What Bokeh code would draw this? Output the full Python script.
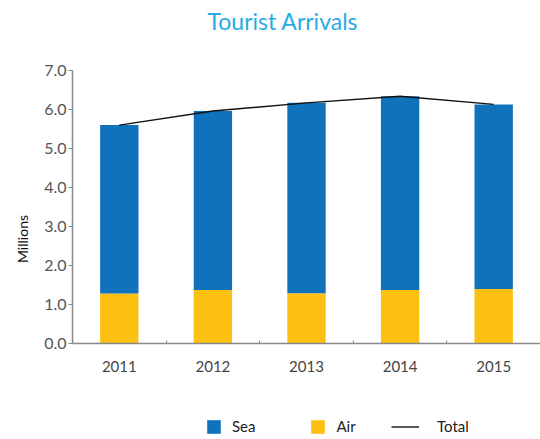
from bokeh.plotting import figure
from bokeh.models import (Range1d, FixedTicker, NumeralTickFormatter, Legend, LegendItem)
from bokeh.embed import file_html
from bokeh.resources import INLINE

years = [2011, 2012, 2013, 2014, 2015]
air = [1.28, 1.37, 1.29, 1.37, 1.40]
sea = [4.32, 4.59, 4.88, 4.97, 4.73]
total = [a + s for a, s in zip(air, sea)]
boundaries = [2011.5, 2012.5, 2013.5, 2014.5]
yticks = [0, 1, 2, 3, 4, 5, 6, 7]

FONT = "Lato"
SEA_C = "#1172BC"
AIR_C = "#FBC012"

p = figure(width=540, height=439, output_backend="svg", toolbar_location=None,
           x_range=Range1d(2010.5, 2015.5), y_range=Range1d(-2.46, 7.82),
           min_border_left=72, min_border_right=0, min_border_bottom=0, min_border_top=0)
p.outline_line_color = None
p.xgrid.grid_line_color = None
p.ygrid.grid_line_color = None

p.title.text = "Tourist Arrivals"
p.title.align = "left"
p.title.offset = 135
p.title.text_color = "#29ABE2"
p.title.text_font = FONT
p.title.text_font_size = "23px"
p.title.text_font_style = "normal"
p.title.standoff = 8

r_air = p.vbar(x=years, bottom=0, top=air, width=0.41, fill_color=AIR_C, line_color=None)
r_sea = p.vbar(x=years, bottom=air, top=total, width=0.41, fill_color=SEA_C, line_color=None)
r_tot = p.line(x=years, y=total, line_color="#111111", line_width=1.4)

xa = p.xaxis[0]
xa.fixed_location = 0
xa.ticker = FixedTicker(ticks=years, minor_ticks=boundaries)
xa.formatter = NumeralTickFormatter(format="0")
xa.major_tick_line_color = None
xa.major_tick_out = 0
xa.major_tick_in = 0
xa.minor_tick_in = 3
xa.minor_tick_out = 0
xa.minor_tick_line_color = "#888888"
xa.axis_line_color = "#888888"
xa.axis_line_width = 1.5
xa.major_label_text_font = FONT
xa.major_label_text_font_size = "15px"
xa.major_label_text_color = "#444444"
xa.major_label_standoff = 17

ya = p.yaxis[0]
ya.ticker = FixedTicker(ticks=yticks)
ya.bounds = (0, 7)
ya.formatter = NumeralTickFormatter(format="0.0")
ya.axis_line_color = "#888888"
ya.axis_line_width = 1.5
ya.major_tick_line_color = "#888888"
ya.major_tick_out = 4
ya.major_tick_in = 0
ya.minor_tick_line_color = None
ya.major_label_text_font = FONT
ya.major_label_text_font_size = "16px"
ya.major_label_text_color = "#555555"
ya.major_label_standoff = 2
ya.axis_label = "Millions"
ya.axis_label_text_font = FONT
ya.axis_label_text_font_size = "14px"
ya.axis_label_text_font_style = "normal"
ya.axis_label_text_color = "#111111"
ya.axis_label_standoff = 10

common = dict(orientation="horizontal", border_line_color=None, background_fill_alpha=0,
              padding=0, margin=0, label_text_font=FONT, label_text_font_size="15px",
              label_text_color="#222222", glyph_height=17)
leg1 = Legend(items=[LegendItem(label="Sea", renderers=[r_sea]),
                     LegendItem(label="Air", renderers=[r_air])],
              location=(133, 4), glyph_width=17, label_standoff=10,
              spacing=54, **common)
leg2 = Legend(items=[LegendItem(label="Total", renderers=[r_tot])],
              location=(319, 4), glyph_width=28, label_standoff=18, **common)
p.add_layout(leg1, "center")
p.add_layout(leg2, "center")

open("out.html", "w").write(file_html(p, INLINE))
